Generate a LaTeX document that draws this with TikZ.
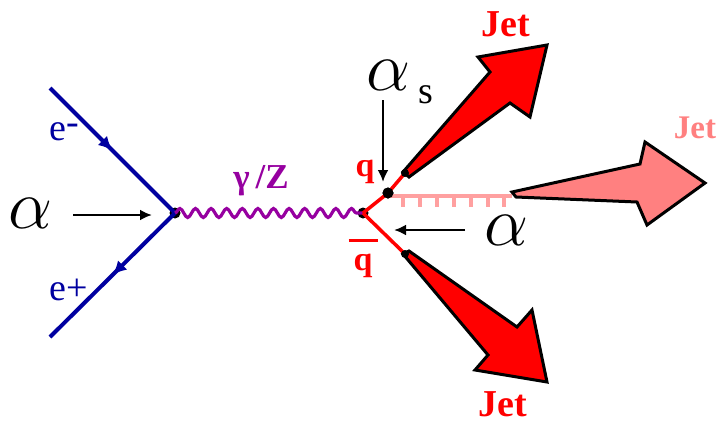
\documentclass[tikz,border=0pt]{standalone}
\usepackage{fix-cm}
\usepackage{fontspec}
\setmainfont{Liberation Serif}
\usetikzlibrary{decorations.pathmorphing,decorations.markings,arrows.meta}
\definecolor{eblue}{RGB}{0,0,160}
\definecolor{phpurple}{RGB}{150,0,160}
\definecolor{jetred}{RGB}{255,0,0}
\definecolor{jetpink}{RGB}{255,128,128}
\definecolor{glpink}{RGB}{255,160,160}
\tikzset{
  fermion/.style={eblue,line width=4pt,postaction={decorate},
    decoration={markings,mark=at position 0.5 with {\arrow{Latex[length=14pt,width=13pt]}}}},
  quark/.style={jetred,line width=3.5pt},
  photon/.style={phpurple,line width=3.2pt,decorate,decoration={snake,segment length=15.6pt,amplitude=4.5pt}},
  vdot/.style={circle,fill=black,inner sep=0pt,minimum size=11pt},
  pointer/.style={black,line width=2.5pt,-{Latex[length=12pt,width=11pt]}},
  jetarrow/.style={draw=black,line width=3pt,line join=miter},
  biga/.style={inner sep=0pt,font=\fontsize{70}{70}\selectfont},
  lab/.style={inner sep=0pt,font=\fontsize{38}{38}\selectfont},
  jetlab/.style={inner sep=0pt,font=\fontsize{38}{38}\selectfont\bfseries}
}
\begin{document}
\begin{tikzpicture}[x=1pt,y=-1pt]
\useasboundingbox (0,0) rectangle (719,423);
% vertices and ends
\coordinate (emin) at (50,88);
\coordinate (eplus) at (50,337);
\node[vdot] (v1) at (175,213) {};
\node[vdot] (v2) at (363,213) {};
\node[vdot] (vg) at (388,193) {};
\coordinate (qend) at (405,173);
\coordinate (qbend) at (405,254);
\coordinate (gend) at (512,196);
% electron lines
\draw[fermion] (emin) -- (v1.center);
\draw[fermion] (v1.center) -- (eplus);
% photon
\draw[photon] (v1.center) -- (v2.center);
% quark lines
\draw[quark] (v2.center) -- (vg.center) -- (qend);
\draw[quark] (v2.center) -- (qbend);
% gluon comb
\draw[glpink,line width=4.5pt] (vg.center) ++(0,3) -- (gend);
\foreach \x in {403,420,437,454,471,488,504}
  \draw[glpink,line width=4.5pt] (\x,196) -- (\x,207);
% jets
\fill[jetpink,jetarrow] (gend) ++(0,-4) -- (640,164) -- (645,142) -- (705,183) -- (647,225) -- (637,202) -- (516,197) -- cycle;
\fill[jetred,jetarrow] (qend) ++(-2,-1) -- (490,72) -- (478,57) -- (547,45) -- (530,117) -- (510,103) -- (409,177) -- cycle;
\fill[jetred,jetarrow] (qbend) ++(-2,0) -- (488,355) -- (475,370) -- (547,382) -- (532,310) -- (517,327) -- (409,251) -- cycle;
\node[vdot] at (vg) {};
\node[vdot,minimum size=8pt] at (qend) {};
\node[vdot,minimum size=8pt] at (qbend) {};
% labels
\node[lab,text=eblue,anchor=base west] (lem) at (49,140) {e\raisebox{6pt}{-}};
\node[lab,text=eblue,anchor=base west] (lep) at (49,300) {e+};
\node[lab,text=phpurple,anchor=base,font=\fontsize{35}{35}\selectfont\bfseries] (lgz) at (261,188) {γ\hspace{6pt}/Z};
\node[lab,text=jetred,anchor=base,font=\fontsize{34}{34}\selectfont\bfseries] (lq) at (365,176) {q};
\node[lab,text=jetred,anchor=north,align=center,font=\fontsize{34}{34}\selectfont\bfseries] (lqb) at (363,239) {\rule{29pt}{3pt}\\[-6pt]q};
\node[jetlab,text=jetred,anchor=base] (j1) at (506,36) {Jet};
\node[jetlab,text=jetred,anchor=base] (j3) at (503,416) {Jet};
\node[jetlab,text=jetpink,anchor=base,font=\fontsize{33}{33}\selectfont\bfseries] (j2) at (695,138) {Jet};
% couplings
\node[biga,anchor=base] (aL) at (31,228) {$\alpha$};
\node[biga,anchor=base west] (aS) at (366,90) {$\alpha$\hspace{8pt}\raisebox{-13pt}{\fontsize{38}{38}\selectfont s}};
\node[biga,anchor=base] (aR) at (507,245) {$\alpha$};
\coordinate (pL) at (73,215);
\coordinate (pS) at (383,100);
\coordinate (pR) at (465,230);
\draw[pointer] (pL) -- (152,215);
\draw[pointer] (pS) -- (383,182);
\draw[pointer] (pR) -- (394,230);
\end{tikzpicture}
\end{document}
